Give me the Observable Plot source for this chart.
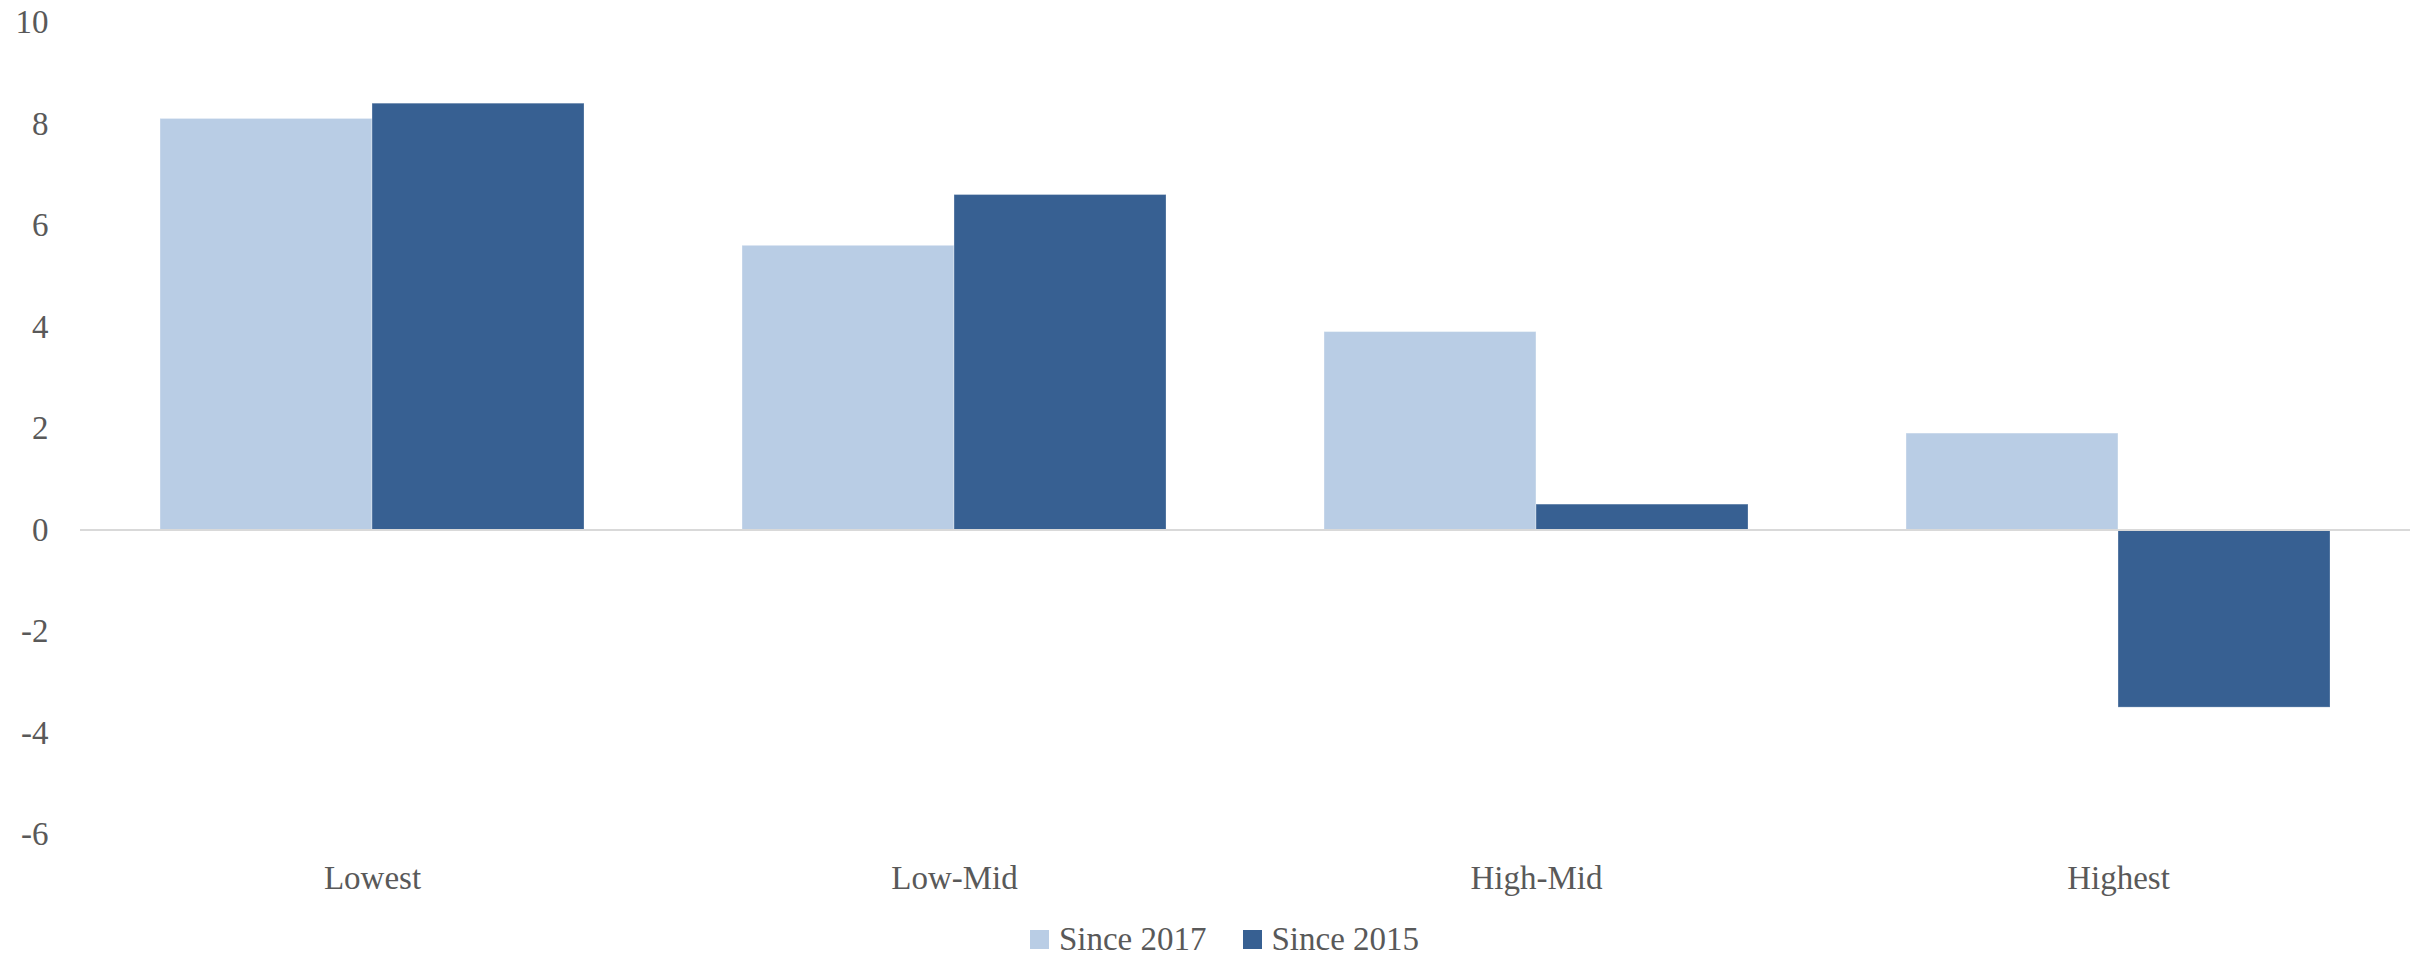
<!DOCTYPE html>
<html>
<head>
<meta charset="utf-8">
<script src="https://cdn.jsdelivr.net/npm/d3@7"></script>
<script src="https://cdn.jsdelivr.net/npm/@observablehq/plot@0.6"></script>
<style>
  html, body { margin: 0; padding: 0; background: #fff; }
  #chart svg { display: block; }
  #legend {
    height: 58px; display: flex; align-items: center; justify-content: center;
    padding-left: 24px; box-sizing: border-box;
    font-family: "Liberation Serif", "DejaVu Serif", serif; font-size: 33px; color: #595959;
  }
  .item { display: flex; align-items: center; margin: 0 18px; }
  .sw { width: 19px; height: 19px; margin-right: 10px; }
</style>
</head>
<body>
<div id="chart"></div>
<div id="legend"></div>
<script>
const categories = ["Lowest", "Low-Mid", "High-Mid", "Highest"];
const seriesNames = ["Since 2017", "Since 2015"];
const since2017 = [8.1, 5.6, 3.9, 1.9];
const since2015 = [8.4, 6.6, 0.5, -3.5];
const yTicks = [-6, -4, -2, 0, 2, 4, 6, 8, 10];
const colors = ["#B9CDE5", "#376092"];

const data2017 = categories.map((c, i) => ({cat: c, series: seriesNames[0], value: since2017[i]}));
const data2015 = categories.map((c, i) => ({cat: c, series: seriesNames[1], value: since2015[i]}));

const W = 2425, H = 910;
const mL = 80, mR = 15, mT = 22, mB = H - 834;
const padInner = 0.272;
const step = (W - mL - mR) / categories.length;
const half = step * (1 - padInner) / 2;

const font = '"Liberation Serif", "DejaVu Serif", serif';

const chart = Plot.plot({
  width: W, height: H,
  marginLeft: mL, marginRight: mR, marginTop: mT, marginBottom: mB,
  style: {fontFamily: font, fontSize: "33px", color: "#595959", background: "#fff"},
  x: {domain: categories, paddingInner: padInner, paddingOuter: padInner / 2,
      tickSize: 0, tickPadding: 31, label: null},
  y: {domain: [-6, 10], ticks: yTicks, tickSize: 0, tickPadding: 32, label: null,
      tickFormat: d => d < 0 ? "-" + Math.abs(d) : String(d)},
  color: {domain: seriesNames, range: colors},
  marks: [
    Plot.barY(data2017, {x: "cat", y: "value", fill: "series", insetRight: half,
      stroke: "white", strokeOpacity: 0.35, strokeWidth: 1}),
    Plot.barY(data2015, {x: "cat", y: "value", fill: "series", insetLeft: half,
      stroke: "white", strokeOpacity: 0.25, strokeWidth: 1}),
    Plot.ruleY([0], {stroke: "#D9D9D9", strokeWidth: 2})
  ]
});
document.getElementById("chart").appendChild(chart);

const legend = document.getElementById("legend");
seriesNames.forEach((s, i) => {
  const it = document.createElement("div");
  it.className = "item";
  const sw = document.createElement("div");
  sw.className = "sw";
  sw.style.background = colors[i];
  const t = document.createElement("span");
  t.textContent = s;
  it.appendChild(sw); it.appendChild(t);
  legend.appendChild(it);
});
</script>
</body>
</html>
